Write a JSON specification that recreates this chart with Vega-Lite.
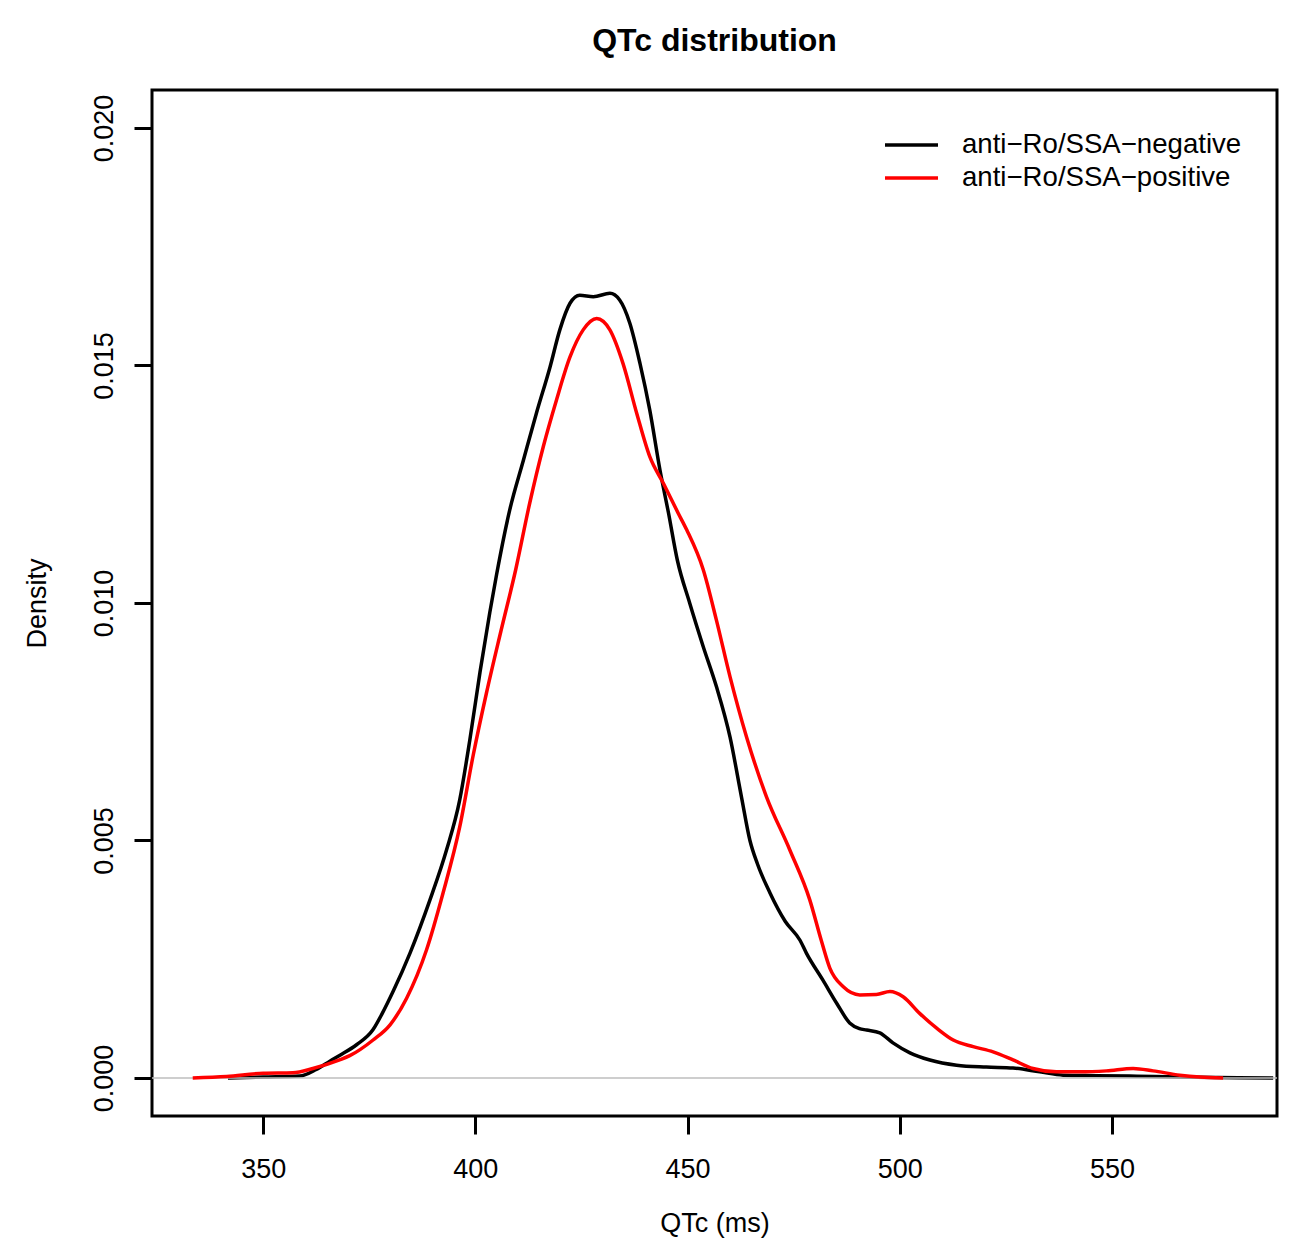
{
  "$schema": "https://vega.github.io/schema/vega-lite/v6.json",
  "width": 1125,
  "height": 1026,
  "autosize": {"type": "none"},
  "padding": {"left": 152, "top": 90, "right": 16, "bottom": 135},
  "background": "white",
  "title": {"text": "QTc distribution", "font": "Liberation Sans", "fontSize": 32, "fontWeight": "bold", "color": "black", "anchor": "middle", "baseline": "alphabetic", "offset": 7},
  "data": {"values": [
    {"qtc": 341.7, "density": 0, "group": "anti−Ro/SSA−negative"},
    {"qtc": 350, "density": 0.00002, "group": "anti−Ro/SSA−negative"},
    {"qtc": 358.6, "density": 0.00004, "group": "anti−Ro/SSA−negative"},
    {"qtc": 362.5, "density": 0.00018, "group": "anti−Ro/SSA−negative"},
    {"qtc": 365.8, "density": 0.00036, "group": "anti−Ro/SSA−negative"},
    {"qtc": 368.1, "density": 0.00048, "group": "anti−Ro/SSA−negative"},
    {"qtc": 372, "density": 0.0007, "group": "anti−Ro/SSA−negative"},
    {"qtc": 375.9, "density": 0.00102, "group": "anti−Ro/SSA−negative"},
    {"qtc": 378, "density": 0.00135, "group": "anti−Ro/SSA−negative"},
    {"qtc": 380.6, "density": 0.00182, "group": "anti−Ro/SSA−negative"},
    {"qtc": 384.6, "density": 0.00263, "group": "anti−Ro/SSA−negative"},
    {"qtc": 389.3, "density": 0.00375, "group": "anti−Ro/SSA−negative"},
    {"qtc": 393.2, "density": 0.0048, "group": "anti−Ro/SSA−negative"},
    {"qtc": 396.3, "density": 0.00585, "group": "anti−Ro/SSA−negative"},
    {"qtc": 398.7, "density": 0.00712, "group": "anti−Ro/SSA−negative"},
    {"qtc": 401.1, "density": 0.00855, "group": "anti−Ro/SSA−negative"},
    {"qtc": 403.4, "density": 0.0098, "group": "anti−Ro/SSA−negative"},
    {"qtc": 405.0, "density": 0.0106, "group": "anti−Ro/SSA−negative"},
    {"qtc": 408.1, "density": 0.01196, "group": "anti−Ro/SSA−negative"},
    {"qtc": 411.3, "density": 0.013, "group": "anti−Ro/SSA−negative"},
    {"qtc": 414.4, "density": 0.014, "group": "anti−Ro/SSA−negative"},
    {"qtc": 417.6, "density": 0.01497, "group": "anti−Ro/SSA−negative"},
    {"qtc": 419.9, "density": 0.01575, "group": "anti−Ro/SSA−negative"},
    {"qtc": 422.3, "density": 0.01631, "group": "anti−Ro/SSA−negative"},
    {"qtc": 424.6, "density": 0.01648, "group": "anti−Ro/SSA−negative"},
    {"qtc": 427.8, "density": 0.01645, "group": "anti−Ro/SSA−negative"},
    {"qtc": 431.7, "density": 0.01652, "group": "anti−Ro/SSA−negative"},
    {"qtc": 434.0, "density": 0.01638, "group": "anti−Ro/SSA−negative"},
    {"qtc": 436.4, "density": 0.01589, "group": "anti−Ro/SSA−negative"},
    {"qtc": 438.8, "density": 0.01504, "group": "anti−Ro/SSA−negative"},
    {"qtc": 441.1, "density": 0.01406, "group": "anti−Ro/SSA−negative"},
    {"qtc": 443.5, "density": 0.0128, "group": "anti−Ro/SSA−negative"},
    {"qtc": 445.5, "density": 0.0119, "group": "anti−Ro/SSA−negative"},
    {"qtc": 447.6, "density": 0.0109, "group": "anti−Ro/SSA−negative"},
    {"qtc": 450.5, "density": 0.01, "group": "anti−Ro/SSA−negative"},
    {"qtc": 453.7, "density": 0.00908, "group": "anti−Ro/SSA−negative"},
    {"qtc": 456.8, "density": 0.00824, "group": "anti−Ro/SSA−negative"},
    {"qtc": 460.0, "density": 0.00718, "group": "anti−Ro/SSA−negative"},
    {"qtc": 462.7, "density": 0.00592, "group": "anti−Ro/SSA−negative"},
    {"qtc": 464.7, "density": 0.005, "group": "anti−Ro/SSA−negative"},
    {"qtc": 466.5, "density": 0.0045, "group": "anti−Ro/SSA−negative"},
    {"qtc": 469.4, "density": 0.0039, "group": "anti−Ro/SSA−negative"},
    {"qtc": 473, "density": 0.0033, "group": "anti−Ro/SSA−negative"},
    {"qtc": 476.5, "density": 0.0029, "group": "anti−Ro/SSA−negative"},
    {"qtc": 478.0, "density": 0.00263, "group": "anti−Ro/SSA−negative"},
    {"qtc": 481.9, "density": 0.00206, "group": "anti−Ro/SSA−negative"},
    {"qtc": 485.1, "density": 0.00158, "group": "anti−Ro/SSA−negative"},
    {"qtc": 488.2, "density": 0.00116, "group": "anti−Ro/SSA−negative"},
    {"qtc": 490.5, "density": 0.00104, "group": "anti−Ro/SSA−negative"},
    {"qtc": 492.2, "density": 0.00101, "group": "anti−Ro/SSA−negative"},
    {"qtc": 495.3, "density": 0.00095, "group": "anti−Ro/SSA−negative"},
    {"qtc": 498.4, "density": 0.00074, "group": "anti−Ro/SSA−negative"},
    {"qtc": 502.4, "density": 0.00053, "group": "anti−Ro/SSA−negative"},
    {"qtc": 507.1, "density": 0.00038, "group": "anti−Ro/SSA−negative"},
    {"qtc": 513.4, "density": 0.00027, "group": "anti−Ro/SSA−negative"},
    {"qtc": 520.4, "density": 0.00023, "group": "anti−Ro/SSA−negative"},
    {"qtc": 526.7, "density": 0.00021, "group": "anti−Ro/SSA−negative"},
    {"qtc": 533.0, "density": 0.00013, "group": "anti−Ro/SSA−negative"},
    {"qtc": 538.5, "density": 0.00006, "group": "anti−Ro/SSA−negative"},
    {"qtc": 546.4, "density": 0.00005, "group": "anti−Ro/SSA−negative"},
    {"qtc": 554.2, "density": 0.00004, "group": "anti−Ro/SSA−negative"},
    {"qtc": 560, "density": 0.00003, "group": "anti−Ro/SSA−negative"},
    {"qtc": 566, "density": 0.00002, "group": "anti−Ro/SSA−negative"},
    {"qtc": 575, "density": 0.00001, "group": "anti−Ro/SSA−negative"},
    {"qtc": 588, "density": 0, "group": "anti−Ro/SSA−negative"},
    {"qtc": 333.4, "density": 0, "group": "anti−Ro/SSA−positive"},
    {"qtc": 341.4, "density": 0.00003, "group": "anti−Ro/SSA−positive"},
    {"qtc": 350, "density": 0.0001, "group": "anti−Ro/SSA−positive"},
    {"qtc": 357, "density": 0.00011, "group": "anti−Ro/SSA−positive"},
    {"qtc": 361.7, "density": 0.0002, "group": "anti−Ro/SSA−positive"},
    {"qtc": 368, "density": 0.00038, "group": "anti−Ro/SSA−positive"},
    {"qtc": 370.4, "density": 0.00047, "group": "anti−Ro/SSA−positive"},
    {"qtc": 375.9, "density": 0.0008, "group": "anti−Ro/SSA−positive"},
    {"qtc": 379.9, "density": 0.00112, "group": "anti−Ro/SSA−positive"},
    {"qtc": 383.8, "density": 0.00168, "group": "anti−Ro/SSA−positive"},
    {"qtc": 388.5, "density": 0.0027, "group": "anti−Ro/SSA−positive"},
    {"qtc": 392.4, "density": 0.0039, "group": "anti−Ro/SSA−positive"},
    {"qtc": 396.3, "density": 0.00528, "group": "anti−Ro/SSA−positive"},
    {"qtc": 399.5, "density": 0.0068, "group": "anti−Ro/SSA−positive"},
    {"qtc": 402.6, "density": 0.0081, "group": "anti−Ro/SSA−positive"},
    {"qtc": 406.0, "density": 0.0094, "group": "anti−Ro/SSA−positive"},
    {"qtc": 409.5, "density": 0.0107, "group": "anti−Ro/SSA−positive"},
    {"qtc": 412.8, "density": 0.0121, "group": "anti−Ro/SSA−positive"},
    {"qtc": 416.0, "density": 0.01329, "group": "anti−Ro/SSA−positive"},
    {"qtc": 419.1, "density": 0.01427, "group": "anti−Ro/SSA−positive"},
    {"qtc": 422.3, "density": 0.01518, "group": "anti−Ro/SSA−positive"},
    {"qtc": 425.4, "density": 0.01575, "group": "anti−Ro/SSA−positive"},
    {"qtc": 428.6, "density": 0.01599, "group": "anti−Ro/SSA−positive"},
    {"qtc": 431.7, "density": 0.01575, "group": "anti−Ro/SSA−positive"},
    {"qtc": 434.8, "density": 0.01504, "group": "anti−Ro/SSA−positive"},
    {"qtc": 438.0, "density": 0.014, "group": "anti−Ro/SSA−positive"},
    {"qtc": 441.1, "density": 0.01308, "group": "anti−Ro/SSA−positive"},
    {"qtc": 444.3, "density": 0.01252, "group": "anti−Ro/SSA−positive"},
    {"qtc": 447.8, "density": 0.01189, "group": "anti−Ro/SSA−positive"},
    {"qtc": 449.8, "density": 0.01154, "group": "anti−Ro/SSA−positive"},
    {"qtc": 453.7, "density": 0.0107, "group": "anti−Ro/SSA−positive"},
    {"qtc": 456.8, "density": 0.00964, "group": "anti−Ro/SSA−positive"},
    {"qtc": 460.0, "density": 0.00845, "group": "anti−Ro/SSA−positive"},
    {"qtc": 463.9, "density": 0.00718, "group": "anti−Ro/SSA−positive"},
    {"qtc": 468.6, "density": 0.00592, "group": "anti−Ro/SSA−positive"},
    {"qtc": 474.1, "density": 0.0048, "group": "anti−Ro/SSA−positive"},
    {"qtc": 478.8, "density": 0.00375, "group": "anti−Ro/SSA−positive"},
    {"qtc": 481.5, "density": 0.0029, "group": "anti−Ro/SSA−positive"},
    {"qtc": 483.5, "density": 0.00232, "group": "anti−Ro/SSA−positive"},
    {"qtc": 486.7, "density": 0.00192, "group": "anti−Ro/SSA−positive"},
    {"qtc": 490.6, "density": 0.00175, "group": "anti−Ro/SSA−positive"},
    {"qtc": 494.5, "density": 0.00176, "group": "anti−Ro/SSA−positive"},
    {"qtc": 497.7, "density": 0.00182, "group": "anti−Ro/SSA−positive"},
    {"qtc": 500.8, "density": 0.00171, "group": "anti−Ro/SSA−positive"},
    {"qtc": 504.7, "density": 0.00136, "group": "anti−Ro/SSA−positive"},
    {"qtc": 508.7, "density": 0.00105, "group": "anti−Ro/SSA−positive"},
    {"qtc": 512.6, "density": 0.0008, "group": "anti−Ro/SSA−positive"},
    {"qtc": 517.3, "density": 0.00066, "group": "anti−Ro/SSA−positive"},
    {"qtc": 522.0, "density": 0.00055, "group": "anti−Ro/SSA−positive"},
    {"qtc": 526.7, "density": 0.00038, "group": "anti−Ro/SSA−positive"},
    {"qtc": 531.4, "density": 0.0002, "group": "anti−Ro/SSA−positive"},
    {"qtc": 536.9, "density": 0.00013, "group": "anti−Ro/SSA−positive"},
    {"qtc": 542.4, "density": 0.00013, "group": "anti−Ro/SSA−positive"},
    {"qtc": 548.7, "density": 0.00015, "group": "anti−Ro/SSA−positive"},
    {"qtc": 555.0, "density": 0.0002, "group": "anti−Ro/SSA−positive"},
    {"qtc": 559.7, "density": 0.00015, "group": "anti−Ro/SSA−positive"},
    {"qtc": 566.0, "density": 0.00006, "group": "anti−Ro/SSA−positive"},
    {"qtc": 570.7, "density": 0.00002, "group": "anti−Ro/SSA−positive"},
    {"qtc": 576.2, "density": 0, "group": "anti−Ro/SSA−positive"}
  ]},
  "layer": [
    {
      "transform": [{"filter": {"field": "group", "equal": "anti−Ro/SSA−negative"}}],
      "mark": {"type": "line", "strokeWidth": 3.5, "interpolate": "monotone", "clip": true},
      "encoding": {
        "x": {"field": "qtc", "type": "quantitative", "scale": {"domain": [323.8, 588.9], "nice": false, "zero": false},
              "axis": {"values": [350, 400, 450, 500, 550], "title": "QTc (ms)", "titleX": 562.5, "titleY": 115, "titleBaseline": "alphabetic", "labelBaseline": "alphabetic", "labelPadding": 43, "labelFlush": false}},
        "y": {"field": "density", "type": "quantitative", "scale": {"domain": [-0.0008, 0.0208], "nice": false, "zero": false},
              "axis": {"values": [0, 0.005, 0.01, 0.015, 0.02], "format": ".3f", "title": "Density", "titleX": -107, "titleY": 513, "titleAngle": 270, "titleAlign": "center", "titleBaseline": "alphabetic", "labelAngle": 270, "labelAlign": "center", "labelBaseline": "alphabetic", "labelPadding": 22, "labelFlush": false}},
        "color": {"field": "group", "type": "nominal",
                  "scale": {"domain": ["anti−Ro/SSA−negative", "anti−Ro/SSA−positive"], "range": ["#000000", "#FF0000"]},
                  "legend": {"orient": "none", "legendX": 731, "legendY": 38.5, "title": null, "symbolType": "stroke", "symbolSize": 2809, "symbolStrokeWidth": 3.5, "labelFont": "Liberation Sans", "labelFontSize": 27.6, "labelColor": "black", "labelOffset": 22, "clipHeight": 33, "rowPadding": 0, "padding": 0, "labelLimit": 0}}
      }
    },
    {
      "data": {"values": [{"z": 0}]},
      "mark": {"type": "rule", "color": "#BEBEBE", "strokeWidth": 1.5},
      "encoding": {"y": {"datum": 0}}
    },
    {
      "transform": [{"filter": {"field": "group", "equal": "anti−Ro/SSA−positive"}}],
      "mark": {"type": "line", "strokeWidth": 3.5, "interpolate": "monotone", "clip": true},
      "encoding": {
        "x": {"field": "qtc", "type": "quantitative"},
        "y": {"field": "density", "type": "quantitative"},
        "color": {"field": "group", "type": "nominal"}
      }
    }
  ],
  "config": {
    "view": {"stroke": "black", "strokeWidth": 3},
    "axis": {"domain": false, "grid": false, "ticks": true, "tickColor": "black", "tickWidth": 3, "tickSize": 18, "labelFont": "Liberation Sans", "labelFontSize": 27, "labelColor": "black", "titleFont": "Liberation Sans", "titleFontSize": 27, "titleFontWeight": "normal", "titleColor": "black"}
  }
}
